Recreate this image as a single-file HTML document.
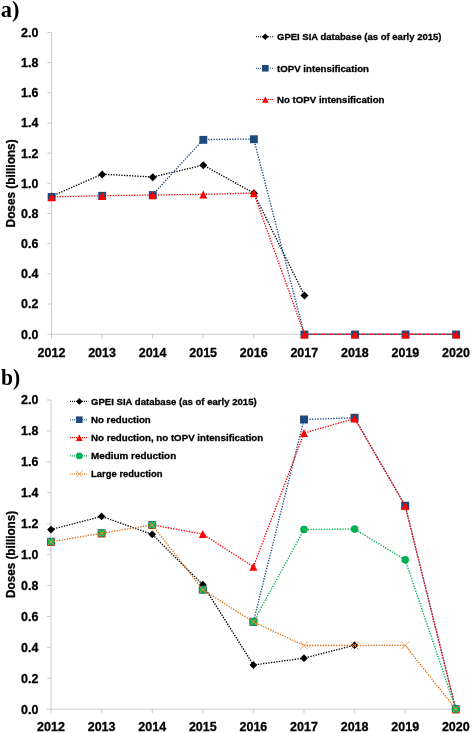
<!DOCTYPE html><html><head><meta charset="utf-8"><style>html,body{margin:0;padding:0;background:#fff}svg{display:block;will-change:transform}text{font-family:"Liberation Sans",sans-serif;font-weight:bold;fill:#000;stroke:#000;stroke-width:0.3px;stroke-linejoin:round}.s{font-family:"Liberation Serif",serif;stroke:none}</style></head><body>
<svg width="472" height="733" viewBox="0 0 472 733">
<rect width="472" height="733" fill="#fff"/>
<text class="s" x="0.8" y="17.3" font-size="22.5" textLength="18.6" lengthAdjust="spacingAndGlyphs">a)</text>
<path d="M51.50 32.45V334.25H455.98" fill="none" stroke="#b6b6b6" stroke-width="0.7"/>
<path d="M47.30 334.25H51.50M47.30 304.07H51.50M47.30 273.89H51.50M47.30 243.71H51.50M47.30 213.53H51.50M47.30 183.35H51.50M47.30 153.17H51.50M47.30 122.99H51.50M47.30 92.81H51.50M47.30 62.63H51.50M47.30 32.45H51.50M51.50 334.25V338.25M102.06 334.25V338.25M152.62 334.25V338.25M203.18 334.25V338.25M253.74 334.25V338.25M304.30 334.25V338.25M354.86 334.25V338.25M405.42 334.25V338.25M455.98 334.25V338.25" fill="none" stroke="#b6b6b6" stroke-width="0.7"/>
<text x="38.3" y="338.65" font-size="13" text-anchor="end" textLength="17.3" lengthAdjust="spacingAndGlyphs">0.0</text>
<text x="38.3" y="308.47" font-size="13" text-anchor="end" textLength="17.3" lengthAdjust="spacingAndGlyphs">0.2</text>
<text x="38.3" y="278.29" font-size="13" text-anchor="end" textLength="17.3" lengthAdjust="spacingAndGlyphs">0.4</text>
<text x="38.3" y="248.11" font-size="13" text-anchor="end" textLength="17.3" lengthAdjust="spacingAndGlyphs">0.6</text>
<text x="38.3" y="217.93" font-size="13" text-anchor="end" textLength="17.3" lengthAdjust="spacingAndGlyphs">0.8</text>
<text x="38.3" y="187.75" font-size="13" text-anchor="end" textLength="17.3" lengthAdjust="spacingAndGlyphs">1.0</text>
<text x="38.3" y="157.57" font-size="13" text-anchor="end" textLength="17.3" lengthAdjust="spacingAndGlyphs">1.2</text>
<text x="38.3" y="127.39" font-size="13" text-anchor="end" textLength="17.3" lengthAdjust="spacingAndGlyphs">1.4</text>
<text x="38.3" y="97.21" font-size="13" text-anchor="end" textLength="17.3" lengthAdjust="spacingAndGlyphs">1.6</text>
<text x="38.3" y="67.03" font-size="13" text-anchor="end" textLength="17.3" lengthAdjust="spacingAndGlyphs">1.8</text>
<text x="38.3" y="36.85" font-size="13" text-anchor="end" textLength="17.3" lengthAdjust="spacingAndGlyphs">2.0</text>
<text x="51.50" y="356.75" font-size="13" text-anchor="middle" textLength="27.8" lengthAdjust="spacingAndGlyphs">2012</text>
<text x="102.06" y="356.75" font-size="13" text-anchor="middle" textLength="27.8" lengthAdjust="spacingAndGlyphs">2013</text>
<text x="152.62" y="356.75" font-size="13" text-anchor="middle" textLength="27.8" lengthAdjust="spacingAndGlyphs">2014</text>
<text x="203.18" y="356.75" font-size="13" text-anchor="middle" textLength="27.8" lengthAdjust="spacingAndGlyphs">2015</text>
<text x="253.74" y="356.75" font-size="13" text-anchor="middle" textLength="27.8" lengthAdjust="spacingAndGlyphs">2016</text>
<text x="304.30" y="356.75" font-size="13" text-anchor="middle" textLength="27.8" lengthAdjust="spacingAndGlyphs">2017</text>
<text x="354.86" y="356.75" font-size="13" text-anchor="middle" textLength="27.8" lengthAdjust="spacingAndGlyphs">2018</text>
<text x="405.42" y="356.75" font-size="13" text-anchor="middle" textLength="27.8" lengthAdjust="spacingAndGlyphs">2019</text>
<text x="455.98" y="356.75" font-size="13" text-anchor="middle" textLength="27.8" lengthAdjust="spacingAndGlyphs">2020</text>
<text transform="translate(14.6 183.40) rotate(-90)" font-size="12" text-anchor="middle" textLength="88" lengthAdjust="spacingAndGlyphs">Doses (billions)</text>
<path d="M51.50 196.33L102.06 174.15L152.62 177.01L203.18 165.09L253.74 193.01L304.30 295.17" fill="none" stroke="#000000" stroke-width="1.33" stroke-dasharray="1.33 1.33" stroke-linejoin="round"/>
<path d="M51.65 192.58L55.65 196.58L51.65 200.58L47.65 196.58Z" fill="#000000"/>
<path d="M102.21 170.40L106.21 174.40L102.21 178.40L98.21 174.40Z" fill="#000000"/>
<path d="M152.77 173.26L156.77 177.26L152.77 181.26L148.77 177.26Z" fill="#000000"/>
<path d="M203.33 161.34L207.33 165.34L203.33 169.34L199.33 165.34Z" fill="#000000"/>
<path d="M253.89 189.26L257.89 193.26L253.89 197.26L249.89 193.26Z" fill="#000000"/>
<path d="M304.45 291.42L308.45 295.42L304.45 299.42L300.45 295.42Z" fill="#000000"/>
<path d="M152.62 194.82L203.18 139.59L253.74 138.99L304.30 334.25L354.86 334.25L405.42 334.25L455.98 334.25" fill="none" stroke="#1F497D" stroke-width="1.33" stroke-dasharray="1.33 1.33" stroke-dashoffset="-0.11" stroke-linejoin="round"/>
<rect x="47.70" y="192.93" width="7.90" height="7.90" fill="#1F497D"/>
<rect x="98.26" y="191.87" width="7.90" height="7.90" fill="#1F497D"/>
<rect x="148.82" y="191.12" width="7.90" height="7.90" fill="#1F497D"/>
<rect x="199.38" y="135.89" width="7.90" height="7.90" fill="#1F497D"/>
<rect x="249.94" y="135.29" width="7.90" height="7.90" fill="#1F497D"/>
<rect x="300.50" y="330.55" width="7.90" height="7.90" fill="#1F497D"/>
<rect x="351.06" y="330.55" width="7.90" height="7.90" fill="#1F497D"/>
<rect x="401.62" y="330.55" width="7.90" height="7.90" fill="#1F497D"/>
<rect x="452.18" y="330.55" width="7.90" height="7.90" fill="#1F497D"/>
<path d="M51.50 196.93L102.06 195.72L152.62 194.97L203.18 194.37L253.74 193.01L304.30 334.25L354.86 334.25L405.42 334.25L455.98 334.25" fill="none" stroke="#FF0000" stroke-width="1.33" stroke-dasharray="1.33 1.33" stroke-linejoin="round"/>
<path d="M51.65 193.18L55.65 201.18L47.65 201.18Z" fill="#FF0000"/>
<path d="M102.21 191.97L106.21 199.97L98.21 199.97Z" fill="#FF0000"/>
<path d="M152.77 191.22L156.77 199.22L148.77 199.22Z" fill="#FF0000"/>
<path d="M203.33 190.62L207.33 198.62L199.33 198.62Z" fill="#FF0000"/>
<path d="M253.89 189.26L257.89 197.26L249.89 197.26Z" fill="#FF0000"/>
<path d="M304.45 330.50L308.45 338.50L300.45 338.50Z" fill="#FF0000"/>
<path d="M355.01 330.50L359.01 338.50L351.01 338.50Z" fill="#FF0000"/>
<path d="M405.57 330.50L409.57 338.50L401.57 338.50Z" fill="#FF0000"/>
<path d="M456.13 330.50L460.13 338.50L452.13 338.50Z" fill="#FF0000"/>
<path d="M256.00 36.75L274.20 36.75" fill="none" stroke="#000000" stroke-width="1.1" stroke-dasharray="1 1" stroke-linejoin="round"/>
<path d="M265.30 33.45L268.60 36.75L265.30 40.05L262.00 36.75Z" fill="#000000"/>
<text x="277" y="40.25" font-size="9.9" textLength="164.5" lengthAdjust="spacingAndGlyphs">GPEI SIA database (as of early 2015)</text>
<path d="M256.00 68.25L274.20 68.25" fill="none" stroke="#1F497D" stroke-width="1.1" stroke-dasharray="1 1" stroke-linejoin="round"/>
<rect x="262.00" y="64.95" width="6.60" height="6.60" fill="#1F497D"/>
<text x="277" y="71.75" font-size="9.9" textLength="92" lengthAdjust="spacingAndGlyphs">tOPV intensification</text>
<path d="M256.00 99.50L274.20 99.50" fill="none" stroke="#FF0000" stroke-width="1.1" stroke-dasharray="1 1" stroke-linejoin="round"/>
<path d="M265.30 96.20L268.60 102.80L262.00 102.80Z" fill="#FF0000"/>
<text x="277" y="103.00" font-size="9.9" textLength="107.5" lengthAdjust="spacingAndGlyphs">No tOPV intensification</text>
<text class="s" x="1" y="384.6" font-size="22.5" textLength="19.2" lengthAdjust="spacingAndGlyphs">b)</text>
<path d="M51.00 400.00V709.20H455.80" fill="none" stroke="#b6b6b6" stroke-width="0.7"/>
<path d="M46.80 709.20H51.00M46.80 678.28H51.00M46.80 647.36H51.00M46.80 616.44H51.00M46.80 585.52H51.00M46.80 554.60H51.00M46.80 523.68H51.00M46.80 492.76H51.00M46.80 461.84H51.00M46.80 430.92H51.00M46.80 400.00H51.00M51.00 709.20V713.20M101.60 709.20V713.20M152.20 709.20V713.20M202.80 709.20V713.20M253.40 709.20V713.20M304.00 709.20V713.20M354.60 709.20V713.20M405.20 709.20V713.20M455.80 709.20V713.20" fill="none" stroke="#b6b6b6" stroke-width="0.7"/>
<text x="38.3" y="713.60" font-size="13" text-anchor="end" textLength="17.3" lengthAdjust="spacingAndGlyphs">0.0</text>
<text x="38.3" y="682.68" font-size="13" text-anchor="end" textLength="17.3" lengthAdjust="spacingAndGlyphs">0.2</text>
<text x="38.3" y="651.76" font-size="13" text-anchor="end" textLength="17.3" lengthAdjust="spacingAndGlyphs">0.4</text>
<text x="38.3" y="620.84" font-size="13" text-anchor="end" textLength="17.3" lengthAdjust="spacingAndGlyphs">0.6</text>
<text x="38.3" y="589.92" font-size="13" text-anchor="end" textLength="17.3" lengthAdjust="spacingAndGlyphs">0.8</text>
<text x="38.3" y="559.00" font-size="13" text-anchor="end" textLength="17.3" lengthAdjust="spacingAndGlyphs">1.0</text>
<text x="38.3" y="528.08" font-size="13" text-anchor="end" textLength="17.3" lengthAdjust="spacingAndGlyphs">1.2</text>
<text x="38.3" y="497.16" font-size="13" text-anchor="end" textLength="17.3" lengthAdjust="spacingAndGlyphs">1.4</text>
<text x="38.3" y="466.24" font-size="13" text-anchor="end" textLength="17.3" lengthAdjust="spacingAndGlyphs">1.6</text>
<text x="38.3" y="435.32" font-size="13" text-anchor="end" textLength="17.3" lengthAdjust="spacingAndGlyphs">1.8</text>
<text x="38.3" y="404.40" font-size="13" text-anchor="end" textLength="17.3" lengthAdjust="spacingAndGlyphs">2.0</text>
<text x="51.00" y="731.20" font-size="13" text-anchor="middle" textLength="27.8" lengthAdjust="spacingAndGlyphs">2012</text>
<text x="101.60" y="731.20" font-size="13" text-anchor="middle" textLength="27.8" lengthAdjust="spacingAndGlyphs">2013</text>
<text x="152.20" y="731.20" font-size="13" text-anchor="middle" textLength="27.8" lengthAdjust="spacingAndGlyphs">2014</text>
<text x="202.80" y="731.20" font-size="13" text-anchor="middle" textLength="27.8" lengthAdjust="spacingAndGlyphs">2015</text>
<text x="253.40" y="731.20" font-size="13" text-anchor="middle" textLength="27.8" lengthAdjust="spacingAndGlyphs">2016</text>
<text x="304.00" y="731.20" font-size="13" text-anchor="middle" textLength="27.8" lengthAdjust="spacingAndGlyphs">2017</text>
<text x="354.60" y="731.20" font-size="13" text-anchor="middle" textLength="27.8" lengthAdjust="spacingAndGlyphs">2018</text>
<text x="405.20" y="731.20" font-size="13" text-anchor="middle" textLength="27.8" lengthAdjust="spacingAndGlyphs">2019</text>
<text x="455.80" y="731.20" font-size="13" text-anchor="middle" textLength="27.8" lengthAdjust="spacingAndGlyphs">2020</text>
<text transform="translate(14.6 554.40) rotate(-90)" font-size="12" text-anchor="middle" textLength="87" lengthAdjust="spacingAndGlyphs">Doses (billions)</text>
<path d="M51.00 529.55L101.60 516.41L152.20 534.35L202.80 584.75L253.40 664.98L304.00 658.18L354.60 645.20" fill="none" stroke="#000000" stroke-width="1.33" stroke-dasharray="1.33 1.33" stroke-linejoin="round"/>
<path d="M51.00 525.65L54.90 529.55L51.00 533.45L47.10 529.55Z" fill="#000000"/>
<path d="M101.60 512.51L105.50 516.41L101.60 520.31L97.70 516.41Z" fill="#000000"/>
<path d="M152.20 530.45L156.10 534.35L152.20 538.25L148.30 534.35Z" fill="#000000"/>
<path d="M202.80 580.85L206.70 584.75L202.80 588.65L198.90 584.75Z" fill="#000000"/>
<path d="M253.40 661.08L257.30 664.98L253.40 668.88L249.50 664.98Z" fill="#000000"/>
<path d="M304.00 654.28L307.90 658.18L304.00 662.08L300.10 658.18Z" fill="#000000"/>
<path d="M354.60 641.30L358.50 645.20L354.60 649.10L350.70 645.20Z" fill="#000000"/>
<path d="M253.40 621.85L304.00 419.48L354.60 417.78L405.20 505.75L455.80 709.20" fill="none" stroke="#1F497D" stroke-width="1.33" stroke-dasharray="1.33 1.33" stroke-dashoffset="-1.11" stroke-linejoin="round"/>
<rect x="47.00" y="537.77" width="8.00" height="8.00" fill="#1F497D"/>
<rect x="97.60" y="529.27" width="8.00" height="8.00" fill="#1F497D"/>
<rect x="148.20" y="520.92" width="8.00" height="8.00" fill="#1F497D"/>
<rect x="198.80" y="585.69" width="8.00" height="8.00" fill="#1F497D"/>
<rect x="249.40" y="617.85" width="8.00" height="8.00" fill="#1F497D"/>
<rect x="300.00" y="415.48" width="8.00" height="8.00" fill="#1F497D"/>
<rect x="350.60" y="413.78" width="8.00" height="8.00" fill="#1F497D"/>
<rect x="401.20" y="501.75" width="8.00" height="8.00" fill="#1F497D"/>
<rect x="451.80" y="705.20" width="8.00" height="8.00" fill="#1F497D"/>
<path d="M152.20 524.92L202.80 534.04L253.40 566.81L304.00 433.08L354.60 418.55L405.20 505.75L455.80 709.20" fill="none" stroke="#FF0000" stroke-width="1.33" stroke-dasharray="1.33 1.33" stroke-linejoin="round"/>
<path d="M51.00 537.77L55.00 545.77L47.00 545.77Z" fill="#FF0000"/>
<path d="M101.60 529.27L105.60 537.27L97.60 537.27Z" fill="#FF0000"/>
<path d="M152.20 520.92L156.20 528.92L148.20 528.92Z" fill="#FF0000"/>
<path d="M202.80 530.04L206.80 538.04L198.80 538.04Z" fill="#FF0000"/>
<path d="M253.40 562.81L257.40 570.81L249.40 570.81Z" fill="#FF0000"/>
<path d="M304.00 429.08L308.00 437.08L300.00 437.08Z" fill="#FF0000"/>
<path d="M354.60 414.55L358.60 422.55L350.60 422.55Z" fill="#FF0000"/>
<path d="M405.20 501.75L409.20 509.75L401.20 509.75Z" fill="#FF0000"/>
<path d="M455.80 705.20L459.80 713.20L451.80 713.20Z" fill="#FF0000"/>
<path d="M253.40 621.85L304.00 529.55L354.60 529.09L405.20 559.86L455.80 709.20" fill="none" stroke="#00B050" stroke-width="1.33" stroke-dasharray="1.33 1.33" stroke-linejoin="round"/>
<circle cx="51.00" cy="541.77" r="3.80" fill="#00B050"/>
<circle cx="101.60" cy="533.27" r="3.80" fill="#00B050"/>
<circle cx="152.20" cy="524.92" r="3.80" fill="#00B050"/>
<circle cx="202.80" cy="589.69" r="3.80" fill="#00B050"/>
<circle cx="253.40" cy="621.85" r="3.80" fill="#00B050"/>
<circle cx="304.00" cy="529.55" r="3.80" fill="#00B050"/>
<circle cx="354.60" cy="529.09" r="3.80" fill="#00B050"/>
<circle cx="405.20" cy="559.86" r="3.80" fill="#00B050"/>
<circle cx="455.80" cy="709.20" r="3.80" fill="#00B050"/>
<path d="M51.00 541.77L101.60 533.27L152.20 524.92L202.80 589.69L253.40 621.85L304.00 645.50L354.60 645.50L405.20 645.35L455.80 709.20" fill="none" stroke="#E36C0A" stroke-width="1.33" stroke-dasharray="1.33 1.33" stroke-linejoin="round"/>
<path d="M47.00 537.77L55.00 545.77M55.00 537.77L47.00 545.77" fill="none" stroke="#F79646" stroke-width="0.9"/>
<path d="M97.60 529.27L105.60 537.27M105.60 529.27L97.60 537.27" fill="none" stroke="#F79646" stroke-width="0.9"/>
<path d="M148.20 520.92L156.20 528.92M156.20 520.92L148.20 528.92" fill="none" stroke="#F79646" stroke-width="0.9"/>
<path d="M198.80 585.69L206.80 593.69M206.80 585.69L198.80 593.69" fill="none" stroke="#F79646" stroke-width="0.9"/>
<path d="M249.40 617.85L257.40 625.85M257.40 617.85L249.40 625.85" fill="none" stroke="#F79646" stroke-width="0.9"/>
<path d="M300.00 641.50L308.00 649.50M308.00 641.50L300.00 649.50" fill="none" stroke="#F79646" stroke-width="0.9"/>
<path d="M350.60 641.50L358.60 649.50M358.60 641.50L350.60 649.50" fill="none" stroke="#F79646" stroke-width="0.9"/>
<path d="M401.20 641.35L409.20 649.35M409.20 641.35L401.20 649.35" fill="none" stroke="#F79646" stroke-width="0.9"/>
<path d="M451.80 705.20L459.80 713.20M459.80 705.20L451.80 713.20" fill="none" stroke="#F79646" stroke-width="0.9"/>
<path d="M70.00 401.40L88.20 401.40" fill="none" stroke="#000000" stroke-width="1.1" stroke-dasharray="1 1" stroke-linejoin="round"/>
<path d="M79.30 398.10L82.60 401.40L79.30 404.70L76.00 401.40Z" fill="#000000"/>
<text x="91" y="404.70" font-size="9.9" textLength="165.7" lengthAdjust="spacingAndGlyphs">GPEI SIA database (as of early 2015)</text>
<path d="M70.00 419.70L88.20 419.70" fill="none" stroke="#1F497D" stroke-width="1.1" stroke-dasharray="1 1" stroke-linejoin="round"/>
<rect x="76.00" y="416.40" width="6.60" height="6.60" fill="#1F497D"/>
<text x="91" y="423.00" font-size="9.9" textLength="59.8" lengthAdjust="spacingAndGlyphs">No reduction</text>
<path d="M70.00 437.60L88.20 437.60" fill="none" stroke="#FF0000" stroke-width="1.1" stroke-dasharray="1 1" stroke-linejoin="round"/>
<path d="M79.30 434.30L82.60 440.90L76.00 440.90Z" fill="#FF0000"/>
<text x="91" y="440.90" font-size="9.9" textLength="172.2" lengthAdjust="spacingAndGlyphs">No reduction, no tOPV intensification</text>
<path d="M70.00 455.90L88.20 455.90" fill="none" stroke="#00B050" stroke-width="1.1" stroke-dasharray="1 1" stroke-linejoin="round"/>
<circle cx="79.30" cy="455.90" r="3.30" fill="#00B050"/>
<text x="91" y="459.20" font-size="9.9" textLength="85.2" lengthAdjust="spacingAndGlyphs">Medium reduction</text>
<path d="M70.00 474.00L88.20 474.00" fill="none" stroke="#E36C0A" stroke-width="1.1" stroke-dasharray="1 1" stroke-linejoin="round"/>
<path d="M76.00 470.70L82.60 477.30M82.60 470.70L76.00 477.30" fill="none" stroke="#F79646" stroke-width="0.9"/>
<text x="91" y="477.30" font-size="9.9" textLength="71.5" lengthAdjust="spacingAndGlyphs">Large reduction</text>
</svg></body></html>
